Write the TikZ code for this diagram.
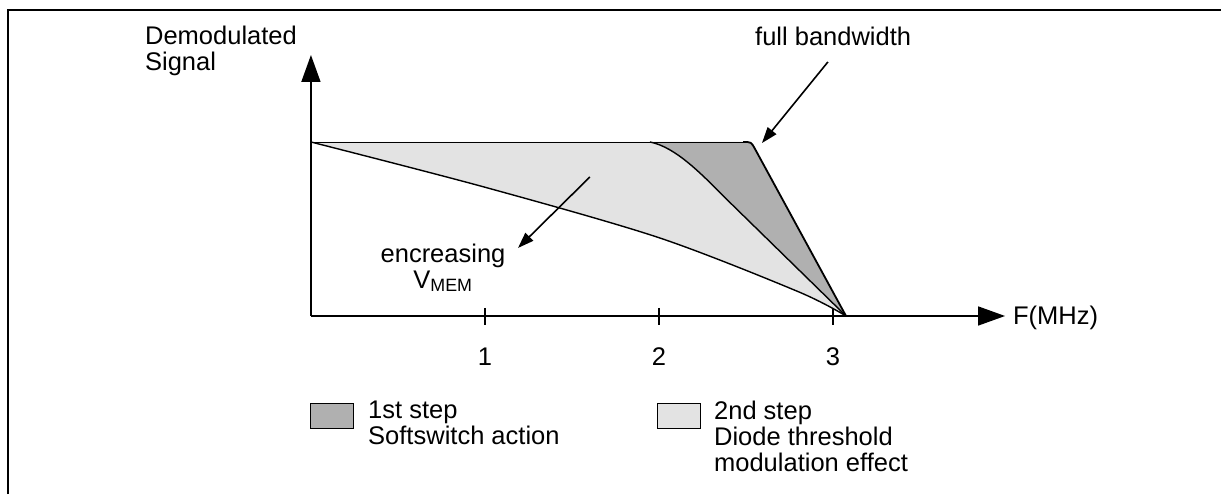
\documentclass[tikz,border=0pt]{standalone}
\usepackage{fontspec}
\setmainfont{Liberation Sans}
\usetikzlibrary{arrows.meta}
\begin{document}
\begin{tikzpicture}[x=174pt, y=174pt,
    font=\fontsize{25.5}{26}\selectfont,
    axis/.style={line width=1.6pt, -{Triangle[length=27pt,width=19pt]}},
    pointer/.style={line width=1.6pt, -{Triangle[length=16pt,width=11pt]}},
    curve/.style={line width=1.4pt},
    softfill/.style={fill=gray!62},
    diodefill/.style={fill=gray!22},
    legendbox/.style={draw, line width=0.8pt, minimum width=43pt, minimum height=25pt, inner sep=0pt}]
  \useasboundingbox (-1.787,-1.023) rectangle (5.230,1.816);
  % frame, only top and left edge inside the page
  \draw[line width=2.4pt] (-1.741,-1.023) -- (-1.741,1.759) -- (5.230,1.759);

  \coordinate (O) at (0,0);
  \coordinate (start) at (0,1);
  \coordinate (knee) at (1.948,1);
  \coordinate (corner) at (2.53,1);
  \coordinate (bend) at (2.40,0.66);
  \coordinate (cutoff) at (3.075,0);

  % 1st step area (softswitch), then 2nd step area on top of it
  \fill[softfill] (knee) -- (2.484,1) .. controls (corner) .. (2.552,0.96) -- (cutoff)
    -- (bend) .. controls (2.25,0.81) and (2.1,0.97) .. (knee) -- cycle;
  \fill[diodefill] (start) -- (knee) .. controls (2.1,0.97) and (2.25,0.81) .. (bend) -- (cutoff)
    -- plot[smooth] coordinates {(3.075,0) (2.8,0.14) (2,0.45) (1,0.74) (0,1)} -- cycle;

  % response curves
  \draw[line width=0.6pt] (start) -- (2.484,1);
  \draw[curve] (start) plot[smooth] coordinates {(0,1) (1,0.74) (2,0.45) (2.8,0.14) (3.075,0)};
  \draw[curve] (knee) .. controls (2.1,0.97) and (2.25,0.81) .. (bend) -- (cutoff);
  \draw[line width=1.8pt] (2.484,1) .. controls (corner) .. (2.552,0.96) -- (cutoff);

  % axes
  \coordinate (ytip) at (0,1.5);
  \coordinate (xtip) at (3.989,0);
  \draw[axis] (O) -- (ytip);
  \draw[axis] (O) -- (xtip);
  \node[anchor=west, inner sep=0pt] (freq) at (4.034,-0.011) {F(MHz)};
  \node[anchor=base west, align=left, inner sep=0pt] (signal) at (-0.954,1.408) {Demodulated\\Signal};
  \foreach \f in {1,2,3} {
    \draw[line width=1.6pt] (\f,0.046) -- (\f,-0.052);
    \node (tick\f) at (\f,-0.236) {\f};
  }

  % annotations
  \node[anchor=base west, inner sep=0pt] (fullbw) at (2.552,1.552) {full bandwidth};
  \coordinate (fulltail) at (2.971,1.46);
  \coordinate (fullhead) at (2.592,0.994);
  \draw[pointer] (fulltail) -- (fullhead);

  \node[anchor=base, align=center, inner sep=0pt] (vmem) at (0.759,0.16) {encreasing\\V\textsubscript{MEM}};
  \coordinate (vmemtail) at (1.603,0.799);
  \coordinate (vmemhead) at (1.190,0.391);
  \draw[pointer] (vmemtail) -- (vmemhead);

  % legend
  \node[legendbox, softfill, anchor=north west] (softkey) at (-0.006,-0.5) {};
  \node[anchor=base west, align=left, inner sep=0pt] (softtext) at (0.328,-0.741) {1st step\\Softswitch action};
  \node[legendbox, diodefill, anchor=north west] (diodekey) at (1.989,-0.5) {};
  \node[anchor=base west, align=left, inner sep=0pt] (diodetext) at (2.316,-0.891) {2nd step\\Diode threshold\\modulation effect};
\end{tikzpicture}
\end{document}
